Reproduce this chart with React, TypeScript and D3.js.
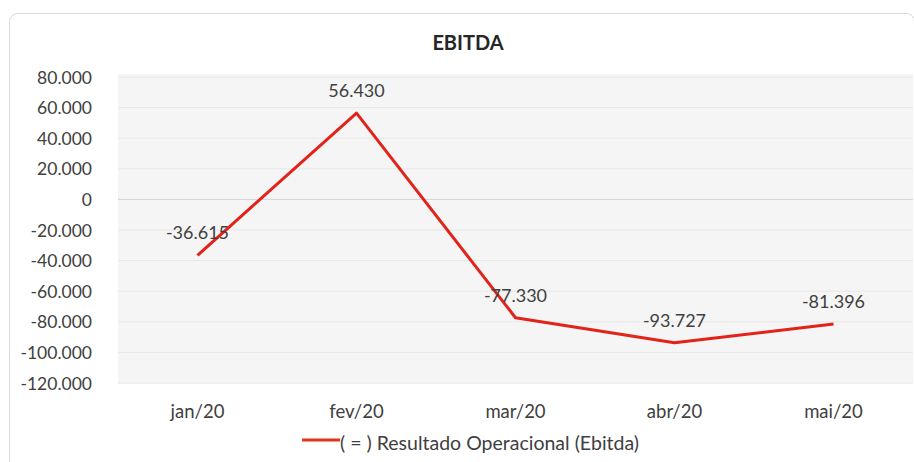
import React from "react";
import * as d3 from "d3";

const categories = ["jan/20", "fev/20", "mar/20", "abr/20", "mai/20"];
const values = [-36615, 56430, -77330, -93727, -81396];
const yTicks = [80000, 60000, 40000, 20000, 0, -20000, -40000, -60000, -80000, -100000, -120000];
const seriesName = "( = ) Resultado Operacional (Ebitda)";
const title = "EBITDA";

const W = 914;
const H = 462;
const font = "Lato, 'Open Sans', sans-serif";

const fmt = (v: number) => {
  const s = d3.format(",")(v).replace(/,/g, ".");
  return s.replace("−", "-");
};

export default function App() {
  const left = 118, right = 913, top = 77, bottom = 383;
  const x = d3.scaleBand<string>().domain(categories).range([left, right]);
  const y = d3.scaleLinear().domain([-120000, 80000]).range([bottom, top]);
  const cx = (c: string) => (x(c) as number) + x.bandwidth() / 2;
  const line = d3.line<number>().x((_, i) => cx(categories[i])).y((v) => y(v));

  return (
    <svg width={W} height={H} style={{ position: "absolute", left: 0, top: 0 }}>
      <rect x={0} y={0} width={W} height={H} fill="#ffffff" />
      <rect x={9.5} y={13.5} width={905} height={470} rx={8} fill="#ffffff" stroke="#d9d9d9" />
      <text x={468} y={50} textAnchor="middle" fontFamily={font} fontWeight="bold" fontSize={20} fill="#262626">
        {title}
      </text>
      <rect x={left} y={top - 3} width={right - left} height={bottom - top + 4} fill="#f5f5f5" />
      {yTicks.map((t) => (
        <line key={t} x1={left} x2={right} y1={y(t)} y2={y(t)} stroke={t === 0 ? "#d4d4d4" : "#e8e8e8"} strokeWidth={1} />
      ))}
      {yTicks.map((t) => (
        <text key={"l" + t} x={92} y={y(t) + 6.5} textAnchor="end" fontFamily={font} fontSize={17.5} fill="#404040">
          {fmt(t)}
        </text>
      ))}
      {categories.map((c) => (
        <text key={c} x={cx(c)} y={418} textAnchor="middle" fontFamily={font} fontSize={18.5} fill="#404040">
          {c}
        </text>
      ))}
      <path d={line(values) || ""} fill="none" stroke="#e2231a" strokeWidth={3} strokeLinejoin="round" />
      {values.map((v, i) => (
        <text key={"d" + i} x={cx(categories[i])} y={y(v) - 16} textAnchor="middle" fontFamily={font} fontSize={18} fill="#404040">
          {fmt(v)}
        </text>
      ))}
      <line x1={302} x2={340} y1={440} y2={440} stroke="#e2351f" strokeWidth={3} />
      <text x={340} y={450} fontFamily={font} fontSize={19.5} fill="#404040">
        {seriesName}
      </text>
    </svg>
  );
}
